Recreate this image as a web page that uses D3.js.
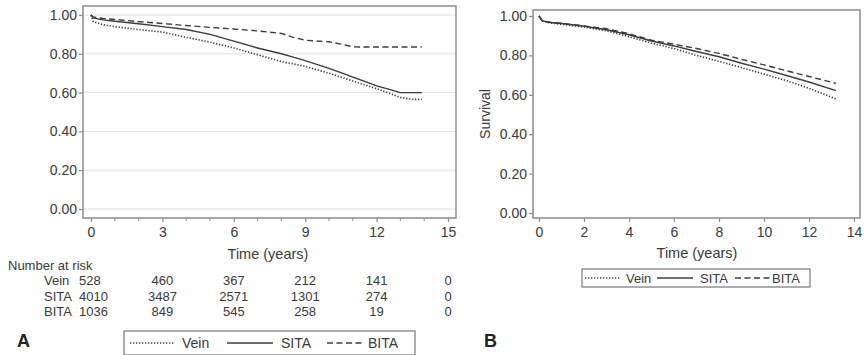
<!DOCTYPE html>
<html>
<head>
<meta charset="utf-8">
<script src="https://cdn.jsdelivr.net/npm/d3@7"></script>
<style>
  html, body { margin: 0; padding: 0; background: #fff; }
  svg { display: block; font-family: "Liberation Sans", Arial, Helvetica, sans-serif; }
</style>
</head>
<body>
<svg id="chart" width="864" height="355"></svg>
<script>
// ---- Panel A: Kaplan-Meier survival, full cohort ----
const groups = ["Vein", "SITA", "BITA"];
const timeA = [0, 0.1, 0.5, 1, 2, 3, 4, 5, 6, 7, 8, 8.5, 9, 10, 10.5, 11, 11.5, 12, 12.5, 13, 13.5, 13.9];
const veinA = [1, 0.965, 0.95, 0.94, 0.925, 0.912, 0.885, 0.86, 0.83, 0.795, 0.76, 0.748, 0.735, 0.70, 0.68, 0.66, 0.64, 0.62, 0.598, 0.575, 0.565, 0.565];
const sitaA = [1, 0.985, 0.975, 0.968, 0.955, 0.94, 0.925, 0.90, 0.865, 0.83, 0.80, 0.783, 0.765, 0.725, 0.703, 0.68, 0.658, 0.635, 0.618, 0.60, 0.60, 0.60];
const bitaA = [1, 0.99, 0.982, 0.977, 0.966, 0.956, 0.946, 0.936, 0.928, 0.918, 0.905, 0.885, 0.87, 0.862, 0.85, 0.836, 0.835, 0.835, 0.835, 0.835, 0.835, 0.835];
const xTicksA = [0, 3, 6, 9, 12, 15];
const yTicks = [0, 0.2, 0.4, 0.6, 0.8, 1.0];

// Number-at-risk table under panel A
const riskTimes = [0, 3, 6, 9, 12, 15];
const riskVein = [528, 460, 367, 212, 141, 0];
const riskSita = [4010, 3487, 2571, 1301, 274, 0];
const riskBita = [1036, 849, 545, 258, 19, 0];

// ---- Panel B: survival curves, second analysis ----
const timeB = [0, 0.15, 0.5, 1, 2, 3, 4, 5, 6, 7, 8, 9, 10, 11, 12, 13.2];
const veinB = [1, 0.974, 0.965, 0.958, 0.944, 0.925, 0.895, 0.862, 0.835, 0.80, 0.77, 0.738, 0.705, 0.672, 0.633, 0.579];
const sitaB = [1, 0.975, 0.967, 0.962, 0.948, 0.93, 0.905, 0.873, 0.848, 0.82, 0.793, 0.76, 0.73, 0.698, 0.665, 0.621];
const bitaB = [1, 0.976, 0.968, 0.963, 0.95, 0.935, 0.91, 0.877, 0.857, 0.835, 0.81, 0.78, 0.752, 0.722, 0.693, 0.658];
const xTicksB = [0, 2, 4, 6, 8, 10, 12, 14];

const textColor = "#3a3a3a";
const lineColor = "#3c3c3c";
const frameColor = "#8c8c8c";
const dashes = { Vein: "1.3,1.7", SITA: null, BITA: "6,3.5" };

const svg = d3.select("#chart");

function drawPanel(opt) {
  const g = svg.append("g");
  const x = d3.scaleLinear().domain(opt.xDomain).range(opt.xRange);
  const y = d3.scaleLinear().domain([0, 1]).range(opt.yRange);

  // gridlines
  if (opt.grid) {
    g.append("g").selectAll("line").data(yTicks).join("line")
      .attr("x1", opt.frame[0]).attr("x2", opt.frame[2])
      .attr("y1", d => y(d)).attr("y2", d => y(d))
      .attr("stroke", "#e2e2e2").attr("stroke-width", 1);
  }

  // frame
  g.append("rect")
    .attr("x", opt.frame[0]).attr("y", opt.frame[1])
    .attr("width", opt.frame[2] - opt.frame[0]).attr("height", opt.frame[3] - opt.frame[1])
    .attr("fill", "none").attr("stroke", frameColor).attr("stroke-width", 1.5);

  // y axis
  const yAxis = g.append("g").attr("transform", `translate(${opt.frame[0]},0)`)
    .call(d3.axisLeft(y).tickValues(yTicks).tickFormat(d3.format(".2f")).tickSize(4).tickPadding(2));
  yAxis.select(".domain").remove();
  yAxis.selectAll(".tick line").attr("stroke", frameColor).attr("stroke-width", 1.2);
  yAxis.selectAll(".tick text").attr("fill", textColor).style("font-size", "14px")
    .style("font-family", "Liberation Sans, Arial, sans-serif");

  // x axis
  const xAxis = g.append("g").attr("transform", `translate(0,${opt.frame[3]})`)
    .call(d3.axisBottom(x).tickValues(opt.xTicks).tickFormat(d3.format("d")).tickSize(4).tickPadding(5));
  xAxis.select(".domain").remove();
  xAxis.selectAll(".tick line").attr("stroke", frameColor).attr("stroke-width", 1.2);
  xAxis.selectAll(".tick text").attr("fill", textColor).style("font-size", "14px")
    .style("font-family", "Liberation Sans, Arial, sans-serif");
  if (opt.minor) {
    const minor = d3.range(opt.xDomain[0], opt.xDomain[1] + 1).filter(v => !opt.xTicks.includes(v));
    g.append("g").selectAll("line").data(minor).join("line")
      .attr("x1", d => x(d)).attr("x2", d => x(d))
      .attr("y1", opt.frame[3]).attr("y2", opt.frame[3] + 3)
      .attr("stroke", frameColor).attr("stroke-width", 1);
  }

  // axis title
  g.append("text").attr("x", opt.xTitle[0]).attr("y", opt.xTitle[1])
    .attr("text-anchor", "middle").attr("fill", textColor).style("font-size", "14.5px")
    .text("Time (years)");

  // survival curves
  const line = d3.line().x(d => x(d[0])).y(d => y(d[1]));
  opt.series.forEach((vals, i) => {
    const name = groups[i];
    const pts = opt.time.map((t, j) => [t, vals[j]]);
    g.append("path").datum(pts)
      .attr("d", line)
      .attr("fill", "none")
      .attr("stroke", lineColor)
      .attr("stroke-width", name === "Vein" ? 1.6 : 1.4)
      .attr("stroke-dasharray", dashes[name]);
  });
  return { g, x, y };
}

const A = drawPanel({
  xDomain: [0, 15], xRange: [91, 448], yRange: [209, 15],
  frame: [83, 6, 456, 218], grid: true, minor: true,
  xTicks: xTicksA, xTitle: [268, 259],
  time: timeA, series: [veinA, sitaA, bitaA]
});

const B = drawPanel({
  xDomain: [0, 14], xRange: [539, 854], yRange: [213, 16],
  frame: [533, 10, 860, 218], grid: false, minor: false,
  xTicks: xTicksB, xTitle: [697, 258],
  time: timeB, series: [veinB, sitaB, bitaB]
});

// "Survival" label on panel B
svg.append("text")
  .attr("transform", "translate(490,114) rotate(-90)")
  .attr("text-anchor", "middle").attr("fill", textColor).style("font-size", "14px")
  .text("Survival");

// Number at risk table
svg.append("text").attr("x", 8).attr("y", 270).attr("fill", textColor)
  .style("font-size", "13px").text("Number at risk");
const riskRows = [riskVein, riskSita, riskBita];
riskRows.forEach((row, i) => {
  const yy = 285 + i * 15.7;
  svg.append("text").attr("x", 44).attr("y", yy).attr("fill", textColor)
    .style("font-size", "13px").text(groups[i]);
  svg.append("g").selectAll("text").data(row).join("text")
    .attr("x", (d, j) => j === 0 ? 79 : A.x(riskTimes[j]))
    .attr("y", yy)
    .attr("text-anchor", (d, j) => j === 0 ? "start" : "middle")
    .attr("fill", textColor).style("font-size", "13px")
    .text(d => d);
});

// Legends
function legend(box, items, fontSize) {
  const g = svg.append("g");
  g.append("rect").attr("x", box[0]).attr("y", box[1])
    .attr("width", box[2] - box[0]).attr("height", box[3] - box[1])
    .attr("fill", "#fff").attr("stroke", "#777").attr("stroke-width", 1.2);
  const cy = (box[1] + box[3]) / 2;
  items.forEach(it => {
    g.append("line").attr("x1", it.l0).attr("x2", it.l1).attr("y1", cy).attr("y2", cy)
      .attr("stroke", lineColor).attr("stroke-width", it.name === "Vein" ? 1.4 : 1.4)
      .attr("stroke-dasharray", dashes[it.name]);
    g.append("text").attr("x", it.tx).attr("y", cy).attr("dy", "0.36em")
      .attr("fill", textColor).style("font-size", fontSize).text(it.name);
  });
}
legend([124, 331, 415, 355], [
  { name: "Vein", l0: 130, l1: 175, tx: 182 },
  { name: "SITA", l0: 227, l1: 273, tx: 281 },
  { name: "BITA", l0: 327, l1: 365, tx: 368 }
], "14px");
legend([582, 269, 810, 287], [
  { name: "Vein", l0: 585, l1: 620, tx: 626 },
  { name: "SITA", l0: 657, l1: 693, tx: 700 },
  { name: "BITA", l0: 735, l1: 770, tx: 772 }
], "13px");

// Panel letters
svg.append("text").attr("x", 17).attr("y", 347).attr("fill", "#222")
  .style("font-size", "18px").style("font-weight", "bold").text("A");
svg.append("text").attr("x", 484).attr("y", 347).attr("fill", "#222")
  .style("font-size", "18px").style("font-weight", "bold").text("B");
</script>
</body>
</html>
